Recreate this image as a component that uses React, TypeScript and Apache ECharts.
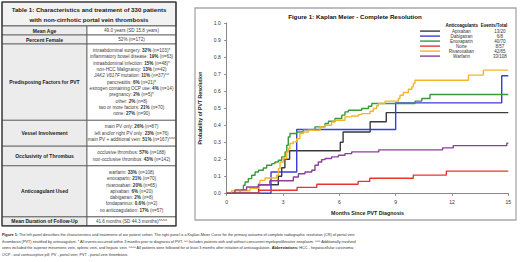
import React, { useEffect, useRef } from "react";
import * as echarts from "echarts";

// ---------- Kaplan-Meier data (months, probability of resolution) ----------
const monthTicks = [0, 3, 6, 9, 12, 15];
const anticoagulants = ["Apixaban", "Dabigatran", "Enoxaparin", "None", "Rivaroxaban", "Warfarin"];
const eventsTotal = ["13/20", "6/8", "40/70", "8/57", "42/65", "33/108"];
const lineColors = ["#3a3a3a", "#3c3cd8", "#3b993b", "#e8352f", "#f3b62a", "#8d3f9b"];

const apixaban = [[0, 0], [1.7, 0.05], [2.75, 0.1], [2.93, 0.15], [3.1, 0.2], [3.35, 0.25], [6.05, 0.3], [6.2, 0.36], [7.64, 0.42], [8.5, 0.474], [15, 0.474]];
const dabigatran = [[0, 0], [2.36, 0.125], [3.73, 0.375], [9.0, 0.531], [14.65, 0.69], [15, 0.69]];
const enoxaparin = [[0, 0], [0.71, 0.017], [0.89, 0.047], [0.98, 0.066], [1.15, 0.086], [1.33, 0.106], [1.51, 0.125], [1.69, 0.135], [1.95, 0.149], [2.13, 0.165], [2.4, 0.174], [2.57, 0.184], [2.75, 0.194], [2.93, 0.214], [3.11, 0.243], [3.2, 0.282], [3.28, 0.331], [3.37, 0.351], [3.73, 0.36], [4.08, 0.374], [4.7, 0.39], [5.24, 0.41], [5.42, 0.423], [5.77, 0.439], [6.13, 0.459], [6.3, 0.478], [6.48, 0.488], [7.19, 0.498], [7.55, 0.511], [7.73, 0.527], [10.03, 0.541], [10.39, 0.557], [10.83, 0.58], [15, 0.58]];
const noneGroup = [[0, 0], [1.7, 0.018], [3.75, 0.035], [4.8, 0.053], [7.0, 0.07], [7.62, 0.088], [9.94, 0.107], [11.7, 0.13], [15, 0.13]];
const rivaroxaban = [[0, 0], [0.26, 0.015], [1.24, 0.03], [1.69, 0.057], [1.77, 0.076], [2.04, 0.09], [2.66, 0.106], [2.75, 0.145], [2.84, 0.184], [3.02, 0.204], [3.2, 0.243], [3.28, 0.263], [3.37, 0.292], [3.55, 0.302], [3.73, 0.321], [3.9, 0.351], [4.08, 0.36], [4.35, 0.37], [4.97, 0.39], [5.24, 0.4], [5.59, 0.419], [5.77, 0.429], [6.3, 0.449], [6.66, 0.454], [7.02, 0.462], [7.19, 0.468], [7.64, 0.482], [7.81, 0.498], [7.99, 0.514], [8.08, 0.527], [8.43, 0.541], [9.14, 0.557], [9.23, 0.576], [9.41, 0.592], [9.68, 0.611], [9.86, 0.625], [9.94, 0.645], [10.03, 0.664], [12.88, 0.694], [13.67, 0.723], [15, 0.723]];
const warfarin = [[0, 0], [0.44, 0.02], [1.06, 0.037], [1.69, 0.05], [2.3, 0.074], [3.55, 0.096], [3.82, 0.115], [4.17, 0.125], [4.53, 0.135], [4.7, 0.165], [4.88, 0.184], [5.06, 0.198], [5.24, 0.204], [5.59, 0.214], [5.95, 0.223], [6.3, 0.233], [6.66, 0.243], [8.1, 0.255], [11.5, 0.267], [12.07, 0.28], [14.92, 0.294], [15, 0.294]];
const curves = [apixaban, dabigatran, enoxaparin, noneGroup, rivaroxaban, warfarin];

// ---------- Table 1 text ----------
const tableTitle = ["Table 1: Characteristics and treatment of 330 patients", "with non-cirrhotic portal vein thrombosis"];
const rowLabels = ["Mean Age", "Percent Female", "Predisposing Factors for PVT", "Vessel Involvement", "Occlusivity of Thrombus", "Anticoagulant Used", "Mean Duration of Follow-Up"];
const meanAge = ["49.0 years (SD 15.8 years)"];
const percentFemale = ["52% (n=172)"];
const predisposing = [
  "intraabdominal surgery: 32% (n=103)*",
  "inflammatory bowel disease: 19% (n=63)",
  "intraabdominal infection: 15% (n=48)*",
  "non-HCC Malignancy: 13% (n=42)",
  "JAK2 V617F mutation: 11% (n=37)^^",
  "pancreatitis: 6% (n=21)*",
  "estrogen containing OCP use: 4% (n=14)",
  "pregnancy: 2% (n=5)*",
  "other: 2% (n=8)",
  "two or more factors: 21% (n=70)",
  "none: 27% (n=90)",
];
const vessel = ["main PV only: 26% (n=87)", "left and/or right PV only: 23% (n=76)", "main PV + additional vein: 51% (n=167)^^^"];
const occlusivity = ["occlusive thrombus: 57% (n=188)", "non-occlusive thrombus: 43% (n=142)"];
const anticoagulantUsed = [
  "warfarin: 33% (n=108)",
  "enoxaparin: 21% (n=70)",
  "rivaroxaban: 20% (n=65)",
  "apixaban: 6% (n=20)",
  "dabigatran: 2% (n=8)",
  "fondaparinux: 0.6% (n=2)",
  "no anticoagulation: 17% (n=57)",
];
const followUp = ["41.6 months (SD 44.3 months)^^^^"];
const rowValues = [meanAge, percentFemale, predisposing, vessel, occlusivity, anticoagulantUsed, followUp];

const captionLines = [
  "{b|Figure 1:} The left panel describes the characteristics and treatments of our patient cohort. The right panel is a Kaplan-Meier Curve for the primary outcome of complete radiographic resolution (CR) of portal vein",
  "thrombosis (PVT) stratified by anticoagulant. * All events occurred within 3 months prior to diagnosis of PVT. ^^ Includes patients with and without concurrent myeloproliferative neoplasm. ^^^ Additionally involved",
  "veins included the superior mesenteric vein, splenic vein, and hepatic vein. ^^^^ All patients were followed for at least 3 months after initiation of anticoagulation. {b|Abbreviations:} HCC - hepatocellular carcinoma;",
  "OCP - oral contraceptive pill; PV - portal vein; PVT - portal vein thrombosis.",
];

const FONT = "'Liberation Sans', Arial, sans-serif";

function buildGraphics() {
  const g: any[] = [];
  const tl = 2, tr = 176, div = 87, top = 2;
  const titleBottom = 26;
  const valSize = 4.6;
  g.push({ type: "rect", shape: { x: tl, y: top, width: tr - tl, height: titleBottom - top }, style: { fill: "#f2f2f2", stroke: "#444", lineWidth: 1 } });
  tableTitle.forEach((t, i) => {
    g.push({ type: "text", x: (tl + tr) / 2, y: 9 + i * 10.5, style: { text: t, fontFamily: FONT, fontSize: 6.1, fontWeight: "bold", fill: "#1a1a1a", align: "center", verticalAlign: "middle" } });
  });
  const lineH = 6.3;
  let y = titleBottom;
  rowValues.forEach((vals, r) => {
    const h = vals.length === 1 ? 9 : vals.length * lineH + 7;
    g.push({ type: "rect", shape: { x: tl, y, width: div - tl, height: h }, style: { fill: "#ececec", stroke: "#555", lineWidth: 0.8 } });
    g.push({ type: "rect", shape: { x: div, y, width: tr - div, height: h }, style: { fill: "#ffffff", stroke: "#555", lineWidth: 0.8 } });
    g.push({ type: "text", x: (tl + div) / 2, y: y + h / 2, style: { text: rowLabels[r], fontFamily: FONT, fontSize: 5, fontWeight: "bold", fill: "#1a1a1a", align: "center", verticalAlign: "middle" } });
    const startY = y + (h - vals.length * lineH) / 2;
    vals.forEach((v, k) => {
      let txt = v;
      if (r >= 2) {
        txt = txt.replace(/(\d+(?:\.\d+)?%)/, "{b|$1}").replace("JAK2 V617F", "{i|JAK2 V617F}");
      }
      g.push({
        type: "text",
        x: (div + tr) / 2,
        y: vals.length === 1 ? y + h / 2 : startY + lineH * (k + 0.5),
        style: {
          text: txt, fontFamily: FONT, fontSize: valSize, fill: "#404040", align: "center", verticalAlign: "middle",
          rich: {
            b: { fontFamily: FONT, fontSize: valSize, fontWeight: "bold", fill: "#303030" },
            i: { fontFamily: FONT, fontSize: valSize, fontStyle: "italic", fill: "#404040" },
          },
        },
      });
    });
    y += h;
  });
  g.push({ type: "rect", shape: { x: tl, y: top, width: tr - tl, height: y - top }, style: { fill: "none", stroke: "#333", lineWidth: 1.2 } });

  captionLines.forEach((t, i) => {
    g.push({
      type: "text", x: 2, y: 235 + i * 6.5,
      style: {
        text: t, fontFamily: FONT, fontSize: 3.8, fill: "#333", align: "left", verticalAlign: "middle",
        rich: { b: { fontFamily: FONT, fontSize: 3.8, fontWeight: "bold", fill: "#222" } },
      },
    });
  });

  g.push({ type: "rect", shape: { x: 195, y: 8, width: 321, height: 212 }, style: { fill: "none", stroke: "#a8a8a8", lineWidth: 1.3 }, z: -1 });
  g.push({ type: "text", x: 355, y: 16, style: { text: "Figure 1: Kaplan Meier - Complete Resolution", fontFamily: FONT, fontSize: 6.2, fontWeight: "bold", fill: "#111", align: "center", verticalAlign: "middle" } });
  g.push({ type: "text", x: 478, y: 25.5, style: { text: "Anticoagulants", fontFamily: FONT, fontSize: 4.5, fontWeight: "bold", fill: "#111", align: "right", verticalAlign: "middle" } });
  g.push({ type: "text", x: 494, y: 25.5, style: { text: "Events/Total", fontFamily: FONT, fontSize: 4.5, fontWeight: "bold", fill: "#111", align: "center", verticalAlign: "middle" } });
  return g;
}

export default function App() {
  const ref = useRef<HTMLDivElement>(null);
  useEffect(() => {
    if (!ref.current) return;
    const chart = echarts.init(ref.current, undefined, { renderer: "svg" });
    const option: any = {
      animation: false,
      backgroundColor: "#ffffff",
      textStyle: { fontFamily: FONT },
      grid: { left: 226.7, right: 11.7, top: 23, bottom: 68.7, containLabel: false },
      xAxis: {
        type: "value", min: 0, max: 15, interval: 3, offset: 2,
        axisLine: { show: true, lineStyle: { color: "#888", width: 1 } },
        axisTick: { show: true, length: 2.5, lineStyle: { color: "#888" } },
        axisLabel: { fontSize: 5, color: "#333", margin: 4.5, formatter: (v: number) => (monthTicks.includes(v) ? String(v) : "") },
        splitLine: { show: false },
        name: "Months Since PVT Diagnosis", nameLocation: "middle", nameGap: 15,
        nameTextStyle: { fontSize: 5.3, fontWeight: "bold", color: "#222" },
      },
      yAxis: {
        type: "value", min: 0, max: 1, interval: 0.1, offset: 2,
        axisLine: { show: true, lineStyle: { color: "#888", width: 1 } },
        axisTick: { show: true, length: 2.5, lineStyle: { color: "#888" } },
        axisLabel: { fontSize: 5, color: "#333", margin: 4, formatter: (v: number) => v.toFixed(1) },
        splitLine: { show: false },
        name: "Probability of PVT Resolution", nameLocation: "middle", nameGap: 19,
        nameTextStyle: { fontSize: 5.2, fontWeight: "bold", color: "#222" },
      },
      legend: {
        orient: "vertical", left: 420, top: 28.6, padding: 0, itemWidth: 20, itemHeight: 1.4, itemGap: 0,
        icon: "rect",
        itemStyle: { borderWidth: 0 },
        selectedMode: false,
        data: anticoagulants,
        formatter: (name: string) => `{n|${name}}{e|${eventsTotal[anticoagulants.indexOf(name)]}}`,
        textStyle: {
          fontSize: 4.5, color: "#333",
          rich: {
            n: { width: 33, align: "right", fontSize: 4.5, lineHeight: 5.4, color: "#333", fontFamily: FONT },
            e: { width: 44, align: "center", fontSize: 4.5, lineHeight: 5.4, color: "#333", fontFamily: FONT },
          },
        },
      },
      series: anticoagulants.map((name, i) => ({
        name, type: "line", step: "end", data: curves[i],
        showSymbol: false, symbol: "none",
        lineStyle: { width: 1.4, color: lineColors[i] },
        itemStyle: { color: lineColors[i] },
      })),
      graphic: buildGraphics(),
    };
    chart.setOption(option);
    return () => chart.dispose();
  }, []);
  return <div ref={ref} style={{ position: "fixed", left: 0, top: 0, width: 520, height: 262, background: "#fff" }} />;
}
